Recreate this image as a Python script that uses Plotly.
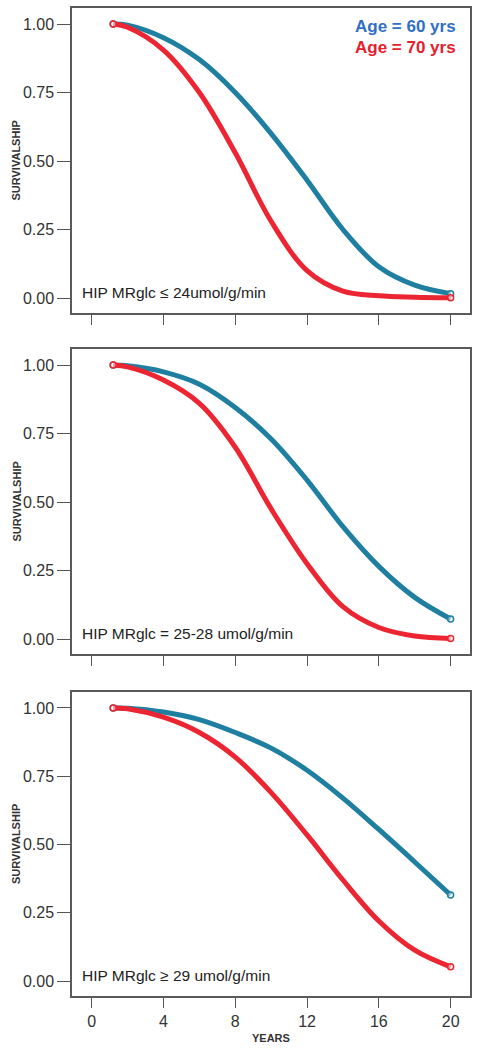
import plotly.graph_objects as go

years = [1.2, 2, 4, 6, 8, 10, 12, 14, 16, 18, 20]

# Panel 1: HIP MRglc <= 24
p1_age60 = [1.0, 0.996, 0.95, 0.87, 0.75, 0.60, 0.43, 0.25, 0.114, 0.047, 0.016]
p1_age70 = [1.0, 0.988, 0.905, 0.75, 0.53, 0.28, 0.10, 0.025, 0.008, 0.003, 0.001]
# Panel 2: HIP MRglc = 25-28
p2_age60 = [1.0, 0.997, 0.975, 0.93, 0.845, 0.73, 0.58, 0.41, 0.265, 0.152, 0.073]
p2_age70 = [1.0, 0.993, 0.945, 0.86, 0.70, 0.475, 0.275, 0.118, 0.042, 0.011, 0.002]
# Panel 3: HIP MRglc >= 29
p3_age60 = [1.0, 0.999, 0.985, 0.957, 0.91, 0.853, 0.772, 0.67, 0.555, 0.436, 0.315]
p3_age70 = [1.0, 0.997, 0.966, 0.91, 0.82, 0.69, 0.535, 0.37, 0.22, 0.113, 0.052]

panel_labels = ["HIP MRglc \u2264 24umol/g/min",
                "HIP MRglc = 25-28 umol/g/min",
                "HIP MRglc \u2265 29 umol/g/min"]
series_names = ["Age = 60 yrs", "Age = 70 yrs"]
x_ticks = [0, 4, 8, 12, 16, 20]
y_ticks = [0.0, 0.25, 0.5, 0.75, 1.0]
y_tick_text = ["0.00", "0.25", "0.50", "0.75", "1.00"]

BLUE_LINE = "#1f7fa0"
RED_LINE = "#ec2532"
BLUE_TXT = "#2f6fc4"
RED_TXT = "#e5202e"
FONT = "Arial, Liberation Sans, sans-serif"

W, H = 479, 1050
# panel boxes in pixels (top, bottom)
boxes = [(8, 313), (349, 654), (692, 996)]
xl, xr = 72, 470

fig = go.Figure()
panels = [(p1_age60, p1_age70), (p2_age60, p2_age70), (p3_age60, p3_age70)]

for i, (s60, s70) in enumerate(panels):
    xa = "x" if i == 0 else f"x{i+1}"
    ya = "y" if i == 0 else f"y{i+1}"
    for vals, col in ((s60, BLUE_LINE), (s70, RED_LINE)):
        fig.add_trace(go.Scatter(x=years, y=vals, mode="lines",
                                 line=dict(color=col, width=5, shape="spline", smoothing=1.0),
                                 xaxis=xa, yaxis=ya, showlegend=False, hoverinfo="skip"))
        fig.add_trace(go.Scatter(x=[years[0], years[-1]], y=[vals[0], vals[-1]], mode="markers",
                                 marker=dict(symbol="circle", size=6, color="rgba(255,255,255,0.5)",
                                             line=dict(color=col, width=1.5)),
                                 xaxis=xa, yaxis=ya, showlegend=False, hoverinfo="skip"))

layout = dict(width=W, height=H, margin=dict(l=0, r=0, t=0, b=0),
              paper_bgcolor="white", plot_bgcolor="white", showlegend=False,
              font=dict(family=FONT, color="#333333"))

annotations = []
for i, (top, bot) in enumerate(boxes):
    sfx = "" if i == 0 else str(i + 1)
    xa_key = "xaxis" + sfx
    ya_key = "yaxis" + sfx
    last = (i == 2)
    layout[xa_key] = dict(domain=[xl / W, xr / W], range=[-1.097, 21.08],
                          tickvals=x_ticks, ticktext=[str(v) for v in x_ticks],
                          showticklabels=last, ticks="outside", ticklen=10, tickwidth=1.2,
                          tickcolor="#555555", showline=True, linecolor="#5a5a5a", linewidth=1.5,
                          mirror=True, showgrid=False, zeroline=False,
                          tickfont=dict(size=16, color="#333333", family=FONT),
                          anchor="y" + sfx)
    layout[ya_key] = dict(domain=[1 - bot / H, 1 - top / H], range=[-0.0547, 1.0584],
                          tickvals=y_ticks, ticktext=y_tick_text, ticks="outside", ticklen=13,
                          tickwidth=1.2, tickcolor="#555555", showline=True, linecolor="#5a5a5a",
                          linewidth=1.5, mirror=True, showgrid=False, zeroline=False,
                          tickfont=dict(size=16, color="#333333", family=FONT),
                          anchor="x" + sfx)
    # y-axis title
    annotations.append(dict(text="<b>SURVIVALSHIP</b>", xref="paper", yref="paper",
                            x=16 / W, y=1 - ((top + bot) / 2) / H, textangle=-90,
                            showarrow=False, font=dict(size=11, color="#333333", family=FONT),
                            xanchor="center", yanchor="middle"))
    # panel label
    annotations.append(dict(text=panel_labels[i], xref="x" + sfx, yref="y" + sfx,
                            x=-0.65, y=0.02, xanchor="left", yanchor="middle", showarrow=False,
                            font=dict(size=15.5, color="#222222", family=FONT)))

# legend text (panel 1)
annotations.append(dict(text="<b>" + series_names[0] + "</b>", xref="paper", yref="paper",
                        x=458 / W, y=1 - 26 / H, xanchor="right", yanchor="middle", showarrow=False,
                        font=dict(size=17, color=BLUE_TXT, family=FONT)))
annotations.append(dict(text="<b>" + series_names[1] + "</b>", xref="paper", yref="paper",
                        x=458 / W, y=1 - 47 / H, xanchor="right", yanchor="middle", showarrow=False,
                        font=dict(size=17, color=RED_TXT, family=FONT)))
# x title
annotations.append(dict(text="<b>YEARS</b>", xref="paper", yref="paper",
                        x=271 / W, y=1 - 1038 / H, xanchor="center", yanchor="middle",
                        showarrow=False, font=dict(size=11, color="#333333", family=FONT)))

layout["annotations"] = annotations
fig.update_layout(**layout)
fig.write_html("out.html", config={"displayModeBar": False},
               post_script="document.body.style.margin='0';")
